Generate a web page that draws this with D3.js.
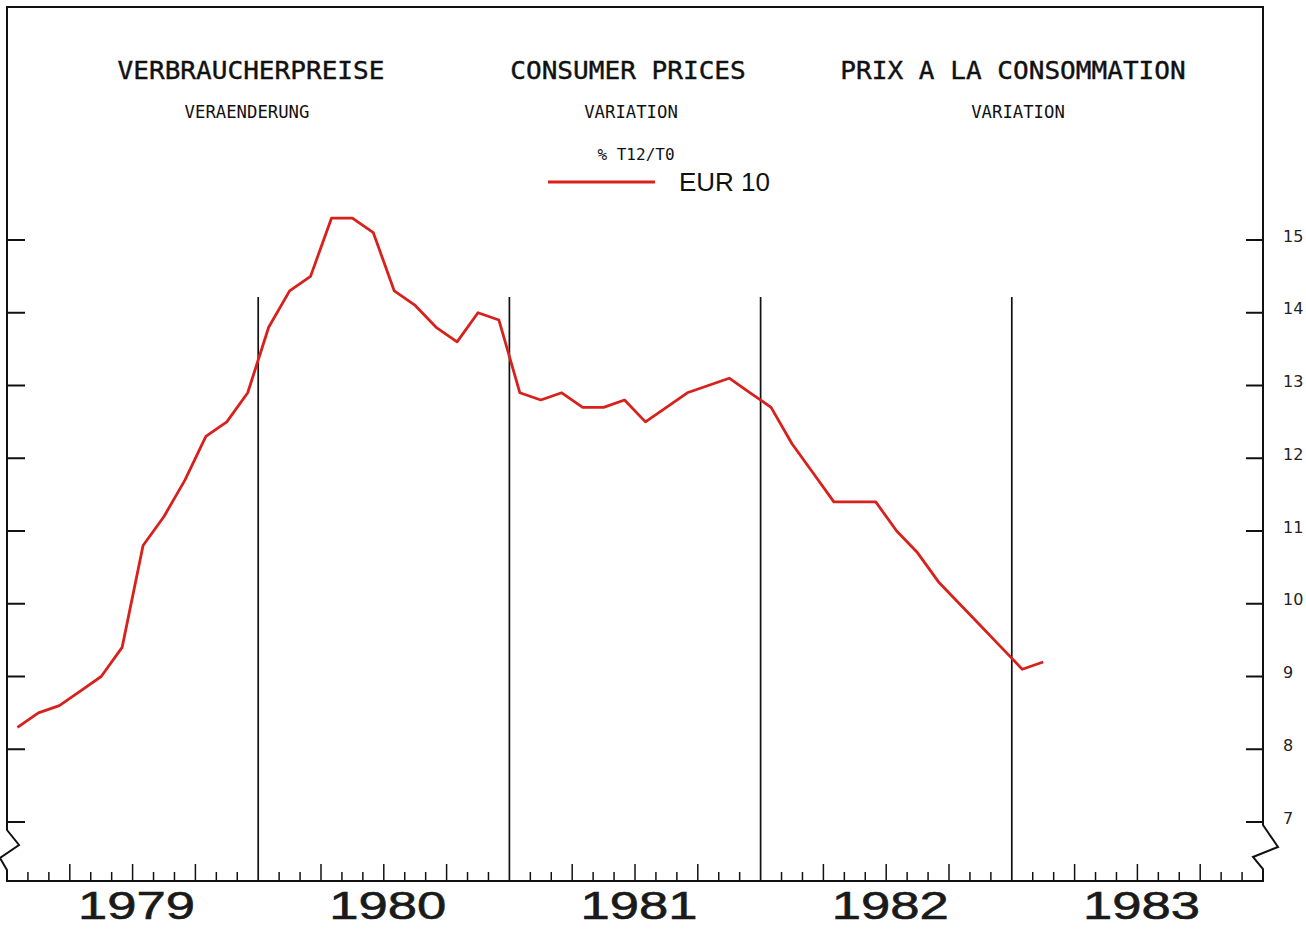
<!DOCTYPE html>
<html>
<head>
<meta charset="utf-8">
<script src="https://cdn.jsdelivr.net/npm/d3@7"></script>
<style>
  body { margin: 0; background: #fff; }
  svg { display: block; }
</style>
</head>
<body>
<svg id="chart" width="1306" height="935"></svg>
<script>
// data - EUR 10 consumer prices, % change T12/T0, monthly from Jan 1979
const years = [1979, 1980, 1981, 1982, 1983];
const eur10 = [
  8.3, 8.5, 8.6, 8.8, 9.0, 9.4, 10.8, 11.2, 11.7, 12.3, 12.5, 12.9,
  13.8, 14.3, 14.5, 15.3, 15.3, 15.1, 14.3, 14.1, 13.8, 13.6, 14.0, 13.9,
  12.9, 12.8, 12.9, 12.7, 12.7, 12.8, 12.5, 12.7, 12.9, 13.0, 13.1, 12.9,
  12.7, 12.2, 11.8, 11.4, 11.4, 11.4, 11.0, 10.7, 10.3, 10.0, 9.7, 9.4,
  9.1, 9.2
];
const yTicks = [7, 8, 9, 10, 11, 12, 13, 14, 15];
const titles = ["VERBRAUCHERPREISE", "CONSUMER PRICES", "PRIX A LA CONSOMMATION"];
const subtitles = ["VERAENDERUNG", "VARIATION", "VARIATION"];
const unitLabel = "% T12/T0";
const seriesName = "EUR 10";

const svg = d3.select("#chart");
const plotL = 7, plotR = 1263, plotT = 7, plotB = 881;
const monoFont = "'DejaVu Sans Mono', monospace";

// month index scale (0 = start of Jan 1979)
const x = d3.scaleLinear().domain([0, years.length * 12]).range([plotL, plotR]);
const y = d3.scaleLinear().domain([7, 15]).range([822, 240]);

// frame: top + axes with break marks
const frame = svg.append("g")
  .attr("fill", "none")
  .attr("stroke", "#111")
  .attr("stroke-width", 2);

frame.append("path")
  .attr("d", `M${plotL},${plotB} L${plotL},870 L${plotL - 7},858 L${plotL + 12},845 L${plotL},830 L${plotL},${plotT} L${plotR},${plotT} L${plotR},825 L${plotR + 15},847 L${plotR - 10},857 L${plotR},869 L${plotR},${plotB} Z`);

// y ticks on both sides
frame.selectAll(".ltick").data(yTicks).enter().append("line")
  .attr("x1", plotL).attr("x2", plotL + 18)
  .attr("y1", d => y(d)).attr("y2", d => y(d));
frame.selectAll(".rtick").data(yTicks).enter().append("line")
  .attr("x1", plotR - 17).attr("x2", plotR)
  .attr("y1", d => y(d)).attr("y2", d => y(d));

svg.append("g").selectAll("text").data(yTicks).enter().append("text")
  .attr("x", plotR + 20)
  .attr("y", d => y(d) - 3)
  .attr("dominant-baseline", "middle")
  .attr("font-family", "'DejaVu Sans', sans-serif")
  .attr("font-size", 16)
  .attr("fill", "#222")
  .text(d => d);

// month ticks along the bottom
const months = d3.range(1, years.length * 12).filter(m => m % 12 !== 0);
frame.selectAll(".mtick").data(months).enter().append("line")
  .attr("x1", d => x(d)).attr("x2", d => x(d))
  .attr("y1", plotB)
  .attr("y2", d => plotB - (d % 3 === 0 ? 17 : 9))
  .attr("stroke-width", 1.5);

// year separators
frame.selectAll(".yline").data(d3.range(1, years.length)).enter().append("line")
  .attr("x1", d => x(d * 12)).attr("x2", d => x(d * 12))
  .attr("y1", 297).attr("y2", plotB)
  .attr("stroke-width", 1.7);

// year labels
svg.append("g").selectAll("text").data(years).enter().append("text")
  .attr("x", (d, i) => x(i * 12 + 6) + 4)
  .attr("y", 919)
  .attr("text-anchor", "middle")
  .attr("font-family", "'Liberation Sans', Arial, sans-serif")
  .attr("font-size", 39)
  .attr("fill", "#1a1a1a")
  .attr("stroke", "#1a1a1a")
  .attr("stroke-width", 0.6)
  .attr("textLength", 117)
  .attr("lengthAdjust", "spacingAndGlyphs")
  .text(d => d);

// titles
const titleX = [251, 628, 1013];
const subX = [247, 631, 1018];
svg.append("g").selectAll("text").data(titles).enter().append("text")
  .attr("x", (d, i) => titleX[i])
  .attr("y", 79)
  .attr("text-anchor", "middle")
  .attr("font-family", monoFont)
  .attr("font-size", 25)
  .attr("fill", "#111")
  .attr("stroke", "#111")
  .attr("stroke-width", 0.4)
  .attr("textLength", d => d.length * 15.7)
  .attr("lengthAdjust", "spacingAndGlyphs")
  .text(d => d);

svg.append("g").selectAll("text").data(subtitles).enter().append("text")
  .attr("x", (d, i) => subX[i])
  .attr("y", 118)
  .attr("text-anchor", "middle")
  .attr("font-family", monoFont)
  .attr("font-size", 17)
  .attr("fill", "#111")
  .attr("textLength", d => d.length * 10.4)
  .attr("lengthAdjust", "spacingAndGlyphs")
  .text(d => d);

svg.append("text")
  .attr("x", 636).attr("y", 160)
  .attr("text-anchor", "middle")
  .attr("font-family", monoFont)
  .attr("font-size", 16)
  .attr("fill", "#111")
  .text(unitLabel);

// legend
svg.append("line")
  .attr("x1", 548).attr("x2", 655)
  .attr("y1", 182).attr("y2", 182)
  .attr("stroke", "#d8201c").attr("stroke-width", 2.8);
svg.append("text")
  .attr("x", 679).attr("y", 191)
  .attr("font-family", "'Liberation Sans', Arial, sans-serif")
  .attr("font-size", 26)
  .attr("fill", "#111")
  .text(seriesName);

// series line
const line = d3.line()
  .x((d, i) => x(i + 0.5))
  .y(d => y(d));

svg.append("path")
  .datum(eur10)
  .attr("fill", "none")
  .attr("stroke", "#d8201c")
  .attr("stroke-width", 2.8)
  .attr("stroke-linejoin", "round")
  .attr("d", line);
</script>
</body>
</html>
